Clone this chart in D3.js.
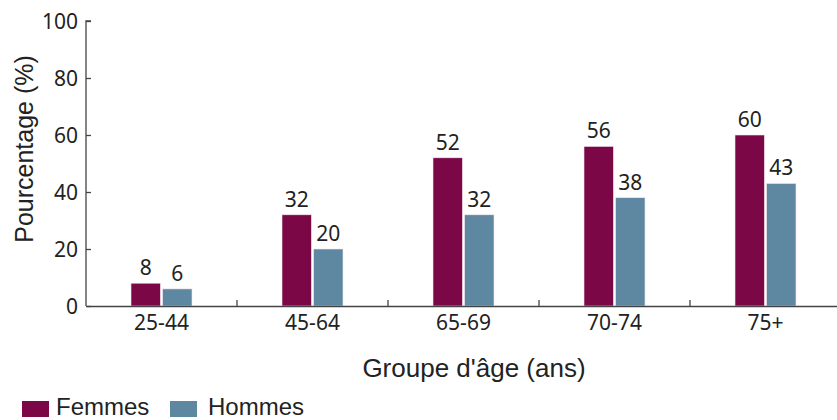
<!DOCTYPE html>
<html><head><meta charset="utf-8">
<script src="https://cdn.jsdelivr.net/npm/d3@7"></script>
<style>body{margin:0;background:#fff;}svg{display:block;}</style>
</head><body><svg id="c" width="837" height="420"></svg>
<script>
const categories = ["25-44","45-64","65-69","70-74","75+"];
const seriesNames = ["Femmes","Hommes"];
const femmes = [8,32,52,56,60];
const hommes = [6,20,32,38,43];
const yTicks = [0,20,40,60,80,100];
const colors = ["#7b0746","#5e88a2"];

const svg = d3.select("#c");
const x0 = 86, x1 = 841, yTop = 21, yBot = 306;
const x = d3.scaleBand().domain(categories).range([x0, x1]).padding(0);
const cw = x.bandwidth();
const xs = d3.scaleBand().domain(seriesNames).range([cw/2-30.5, cw/2+30.5]).paddingInner(0.07);
const y = d3.scaleLinear().domain([0,100]).range([yBot, yTop]);
const values = [femmes, hommes];
const tickFont = "'Noto Sans', 'Open Sans', sans-serif";
const arial = "'Liberation Sans', Arial, sans-serif";

// bars
const g = svg.append("g");
categories.forEach((c,i)=>{
  seriesNames.forEach((s,j)=>{
    const v = values[j][i];
    g.append("rect")
      .attr("x", x(c)+xs(s)).attr("y", y(v))
      .attr("width", xs.bandwidth()).attr("height", y(0)-y(v))
      .attr("fill", colors[j]).attr("stroke","#f3e6ee").attr("stroke-width",0.6);
    g.append("text")
      .attr("x", x(c)+xs(s)+xs.bandwidth()/2).attr("y", y(v)-8)
      .attr("text-anchor","middle").attr("font-family",tickFont).attr("font-size",21)
      .attr("fill","#222").text(v);
  });
});

// y axis
const ya = svg.append("g").attr("transform",`translate(${x0},0)`)
  .call(d3.axisRight(y).tickValues(yTicks).tickSize(5).tickPadding(0));
ya.select(".domain").attr("stroke","#444").attr("stroke-width",1.3).attr("d",`M5,${yTop}H0V${yBot}`);
ya.selectAll(".tick line").attr("stroke","#444").attr("stroke-width",1.3);
ya.selectAll(".tick text").attr("x",-8).attr("text-anchor","end").attr("dy","0.35em")
  .attr("font-family",tickFont).attr("font-size",21).attr("fill","#222");

// x axis
const xa = svg.append("g").attr("transform",`translate(0,${yBot})`)
  .call(d3.axisBottom(x).tickSize(0).tickPadding(9));
xa.select(".domain").attr("stroke","#444").attr("stroke-width",1.3);
xa.selectAll(".tick text").attr("font-family",tickFont).attr("font-size",21).attr("fill","#222").attr("dy","0.71em");
categories.slice(1).forEach(c=>{
  xa.append("line").attr("x1",x(c)).attr("x2",x(c)).attr("y1",0).attr("y2",-6)
    .attr("stroke","#444").attr("stroke-width",1.3);
});

// titles
svg.append("text").attr("transform","translate(33,149) rotate(-90)")
  .attr("text-anchor","middle").attr("font-family",arial).attr("font-size",25)
  .attr("fill","#222").text("Pourcentage (%)");
svg.append("text").attr("x",474).attr("y",377).attr("text-anchor","middle")
  .attr("font-family",arial).attr("font-size",26)
  .attr("fill","#222").text("Groupe d'âge (ans)");

// legend
const leg = svg.append("g");
const legX = [22,170];
const legTextX = [56,208];
seriesNames.forEach((s,j)=>{
  leg.append("rect").attr("x",legX[j]).attr("y",401).attr("width",27).attr("height",16).attr("fill",colors[j]);
  leg.append("text").attr("x",legTextX[j]).attr("y",414.5)
    .attr("font-family",arial).attr("font-size",24)
    .attr("fill","#222").text(s);
});
</script></body></html>
